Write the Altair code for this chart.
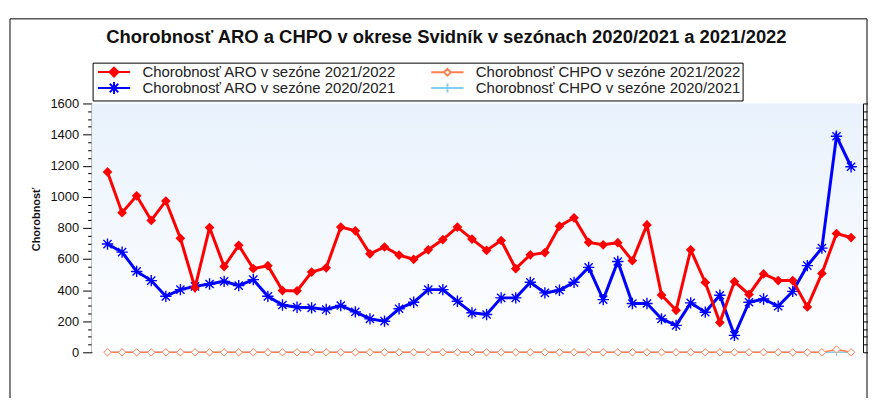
import altair as alt
import pandas as pd

# ---------------- data ----------------
weeks = [40, 41, 42, 43, 44, 45, 46, 47, 48, 49, 50, 51, 52] + list(range(1, 40))

aro_2122 = [1160, 898, 1006, 848, 973, 733, 415, 802, 551, 688, 538, 557, 397,
            395, 516, 543, 805, 781, 633, 677, 625, 598, 659, 725, 805, 728,
            655, 719, 538, 627, 641, 811, 865, 707, 691, 705, 589, 819, 368,
            270, 659, 449, 191, 455, 372, 504, 461, 461, 292, 507, 764, 738]

aro_2021 = [696, 644, 520, 461, 360, 403, 424, 439, 456, 429, 467, 360, 304,
            290, 286, 275, 301, 260, 215, 200, 280, 322, 403, 403, 328, 254,
            243, 350, 350, 450, 382, 399, 450, 546, 339, 584, 314, 314, 215,
            173, 318, 258, 367, 109, 322, 343, 296, 392, 557, 670, 1389, 1193]

chpo_2122 = [0] * 50 + [18, 0]
chpo_2021 = [0] * 52

ARO_21, CHPO_21 = "Chorobnosť ARO v sezóne 2021/2022", "Chorobnosť CHPO v sezóne 2021/2022"
ARO_20, CHPO_20 = "Chorobnosť ARO v sezóne 2020/2021", "Chorobnosť CHPO v sezóne 2020/2021"
series_names = [ARO_21, ARO_20, CHPO_21, CHPO_20]   # legend order (column-wise)
series_values = [aro_2122, aro_2021, chpo_2122, chpo_2021]

RED, CORAL, BLUE, SKY = "#FF0000", "#FF7F50", "#0000FF", "#87CEEB"
series_colors = [RED, BLUE, CORAL, SKY]
series_fills = [RED, "transparent", "white", "transparent"]

rows = []
for name, vals in zip(series_names, series_values):
    for i, (w, v) in enumerate(zip(weeks, vals)):
        rows.append({"idx": i, "week": w, "series": name, "value": v})
df = pd.DataFrame(rows)

W, H = 775, 250
FONT = "Liberation Sans"

weeks_js = "[" + ",".join(str(w) for w in weeks) + "]"
x_label_expr = (f"{weeks_js}[round(datum.value)] % 2 === 0 ? "
                f"'' + {weeks_js}[round(datum.value)] : ''")

x_scale = alt.Scale(domain=[-1.09, 51.82], nice=False, zero=False)
y_scale = alt.Scale(domain=[0, 1600], nice=False)

x_axis = alt.Axis(values=list(range(52)), labelExpr=x_label_expr, tickSize=5,
                  labelPadding=2, labelFontSize=13, labelFont=FONT,
                  labelColor="#111111", domainColor="black", tickColor="black",
                  title="Týždne", titleFont=FONT, titleFontSize=13,
                  titleFontWeight="bold", titleColor="#111111", titlePadding=4,
                  grid=False, labelOverlap=False, labelFlush=False)

tick_cond = {"condition": {"test": "datum.value % 200 === 0", "value": 9}, "value": 4}

y_axis_left = alt.Axis(orient="left", values=list(range(0, 1601, 50)), format="d",
                       labelExpr="datum.value % 200 === 0 ? datum.label : ''",
                       tickSize=tick_cond, labelPadding=4, labelFontSize=13,
                       labelFont=FONT, labelColor="#111111", domainColor="black",
                       tickColor="black", grid=False, labelOverlap=False,
                       title="Chorobnosť", titleFont=FONT, titleFontSize=11,
                       titleFontWeight="bold", titleColor="#111111",
                       titleAngle=-90, titleX=-55, titleY=116,
                       titleBaseline="middle", titleAlign="center")

y_axis_right = alt.Axis(orient="right", values=list(range(0, 1601, 50)),
                        labels=False, tickSize=tick_cond, domainColor="black",
                        tickColor="black", grid=False, title=None)

base = alt.Chart(df)

def series_line(name, color, width, y_axis=None):
    return base.transform_filter(alt.datum.series == name).mark_line(
        color=color, strokeWidth=width).encode(
        x=alt.X("idx:Q", scale=x_scale, axis=x_axis if y_axis is not None else None),
        y=alt.Y("value:Q", scale=y_scale, axis=y_axis))

def series_points(name, **mark):
    return base.transform_filter(alt.datum.series == name).mark_point(**mark).encode(
        x=alt.X("idx:Q", scale=x_scale, axis=None),
        y=alt.Y("value:Q", scale=y_scale, axis=None))

ASTER = "M-1,0H1M0,-1V1M-0.72,-0.72L0.72,0.72M-0.72,0.72L0.72,-0.72"
PLUS = "M-1,0H1M0,-1V1"

gradient = alt.Gradient(gradient="linear",
                        stops=[alt.GradientStop(color="#E8F1FC", offset=0),
                               alt.GradientStop(color="#FFFFFF", offset=1)],
                        x1=0, x2=0, y1=0, y2=1)

one = alt.Data(values=[{"a": 1}])
bg = alt.Chart(one).mark_rect(color=gradient).encode(
    x=alt.value(0), x2=alt.value(W), y=alt.value(0), y2=alt.value(H))
border = alt.Chart(one).mark_rect(filled=False, stroke="black", strokeWidth=1).encode(
    x=alt.value(-82), x2=alt.value(779), y=alt.value(-85), y2=alt.value(400))

# legend (symbols = line + marker), same order as series_names
leg_paths = [
    "M-3.6,0H3.6M0,-1L1,0L0,1L-1,0Z",
    "M-3.6,0H3.6M0,-1.35V1.35M-1.35,0H1.35M-0.95,-0.95L0.95,0.95M-0.95,0.95L0.95,-0.95",
    "M-3.6,0H-0.75M0.75,0H3.6M0,-0.75L0.75,0L0,0.75L-0.75,0Z",
    "M-3.6,0H3.6M0,-1V1",
]
legend = alt.Legend(title=None, orient="none", legendX=1, legendY=-41, columns=2,
                    padding=2, rowPadding=-3, columnPadding=31,
                    strokeColor="black", fillColor="white",
                    labelFont=FONT, labelFontSize=15, labelColor="#222222",
                    labelLimit=500, symbolSize=81, symbolStrokeWidth=2,
                    symbolOffset=12, labelOffset=21, symbolOpacity=1)
legend_layer = base.transform_filter("false").mark_point(opacity=1).encode(
    shape=alt.Shape("series:N", scale=alt.Scale(domain=series_names, range=leg_paths), legend=legend),
    stroke=alt.Stroke("series:N", scale=alt.Scale(domain=series_names, range=series_colors), legend=legend),
    fill=alt.Fill("series:N", scale=alt.Scale(domain=series_names, range=series_fills), legend=legend),
)

layers = [
    bg, border,
    series_line(CHPO_20, SKY, 1.5, y_axis_left),
    series_line(CHPO_21, CORAL, 1.5, y_axis_right),
    series_points(CHPO_20, shape=PLUS, filled=False, stroke=SKY, strokeWidth=1, size=60, opacity=1),
    series_points(CHPO_21, shape="diamond", filled=True, fill="white", stroke=CORAL, strokeWidth=1, size=55, opacity=1),
    series_line(ARO_20, BLUE, 3),
    series_points(ARO_20, shape=ASTER, filled=False, stroke=BLUE, strokeWidth=1.4, size=130, opacity=1),
    series_line(ARO_21, RED, 3),
    series_points(ARO_21, shape="diamond", filled=True, color=RED, size=95, opacity=1),
    legend_layer,
]

chart = alt.layer(*layers).resolve_axis(y="independent").properties(
    width=W, height=H,
    title=alt.TitleParams("Chorobnosť ARO a CHPO v okrese  Svidník v sezónach 2020/2021 a 2021/2022",
                          font=FONT, fontSize=18.5, fontWeight="bold", color="#111111",
                          anchor="middle", frame="group", dx=-31, dy=28, offset=0),
    padding={"left": 84, "top": 95, "right": 5, "bottom": 45},
    autosize=alt.AutoSizeParams(type="none"),
).configure_view(stroke=None)

chart.save("out.html", embed_options={"renderer": "svg", "actions": False})
